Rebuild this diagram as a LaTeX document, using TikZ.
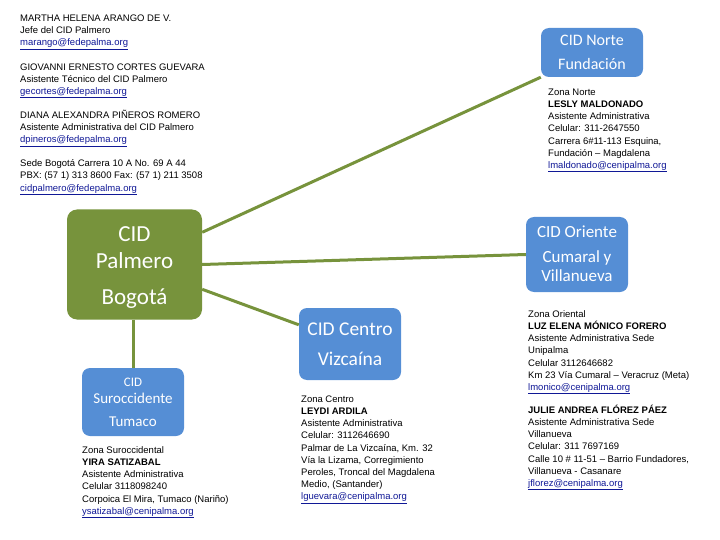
\documentclass[tikz,border=0pt]{standalone}
\usepackage{fontspec}
\setmainfont{Liberation Sans}
\newfontfamily\boxfont{Carlito}
\usetikzlibrary{calc}
\definecolor{cidgreen}{RGB}{119,147,60}
\definecolor{cidblue}{RGB}{85,142,213}
\definecolor{linkblue}{RGB}{16,24,150}
\newcommand{\mylink}[1]{\textcolor{linkblue}{\underline{#1}}}
\begin{document}
\begin{tikzpicture}[x=1pt,y=-1pt,
  greenbox/.style={fill=cidgreen, rounded corners=10pt, minimum width=135pt, minimum height=110pt, inner sep=0pt},
  bluebox/.style={fill=cidblue, rounded corners=8pt, inner sep=0pt},
  conn/.style={draw=cidgreen, line width=3pt},
  info/.style={anchor=north west, inner sep=0pt, align=left, font=\fontsize{9.5}{12.1}\selectfont},
  boxtext/.style={anchor=base, text=white, inner sep=0pt}]
\useasboundingbox (0,0) rectangle (720,540);

% boxes
\node[greenbox] (palmero) at (134.5,264.5) {};
\node[bluebox, minimum width=102pt, minimum height=49pt] (norte) at (592,52.5) {};
\node[bluebox, minimum width=102pt, minimum height=75pt] (oriente) at (577,254.5) {};
\node[bluebox, minimum width=102pt, minimum height=72pt] (centro) at (350,344) {};
\node[bluebox, minimum width=102pt, minimum height=68pt] (suroc) at (133,402) {};

% connectors
\draw[conn] ($(palmero.north east)+(0,23)$) -- (norte.south west);
\draw[conn] (palmero.east) -- (oriente.west);
\draw[conn] ($(palmero.north east)+(0,80)$) -- ($(centro.north west)+(0,17)$);
\draw[conn] (palmero.south -| suroc.north) -- (suroc.north);

% box texts
\node[boxtext, font=\boxfont\fontsize{23}{23}\selectfont] (p1) at (134.5,241) {CID};
\node[boxtext, font=\boxfont\fontsize{23}{23}\selectfont] (p2) at (134.5,268) {Palmero};
\node[boxtext, font=\boxfont\fontsize{23}{23}\selectfont] (p3) at (134.5,304) {Bogotá};

\node[boxtext, font=\boxfont\fontsize{16}{16}\selectfont] (n1) at (592,46) {CID Norte};
\node[boxtext, font=\boxfont\fontsize{16}{16}\selectfont] (n2) at (592,70) {Fundación};

\node[boxtext, font=\boxfont\fontsize{17}{17}\selectfont] (o1) at (577,237.5) {CID Oriente};
\node[boxtext, font=\boxfont\fontsize{17}{17}\selectfont] (o2) at (577,262.5) {Cumaral y};
\node[boxtext, font=\boxfont\fontsize{17}{17}\selectfont] (o3) at (577,281.5) {Villanueva};

\node[boxtext, font=\boxfont\fontsize{19.5}{19.5}\selectfont] (c1) at (350,335.5) {CID Centro};
\node[boxtext, font=\boxfont\fontsize{19.5}{19.5}\selectfont] (c2) at (350,365) {Vizcaína};

\node[boxtext, font=\boxfont\fontsize{13}{13}\selectfont] (s1) at (133,386) {CID};
\node[boxtext, font=\boxfont\fontsize{15}{15}\selectfont] (s2) at (133,403) {Suroccidente};
\node[boxtext, font=\boxfont\fontsize{15}{15}\selectfont] (s3) at (133,426) {Tumaco};

% info blocks
\node[info] (martha) at (20,13) {\strut MARTHA HELENA ARANGO DE V.\\ Jefe del CID Palmero\\ \mylink{marango@fedepalma.org}};
\node[info] (giovanni) at (20,61.4) {\strut GIOVANNI ERNESTO CORTES GUEVARA\\ Asistente Técnico del CID Palmero\\ \mylink{gecortes@fedepalma.org}};
\node[info] (diana) at (20,109.8) {\strut DIANA ALEXANDRA PIÑEROS ROMERO\\ Asistente Administrativa del CID Palmero\\ \mylink{dpineros@fedepalma.org}};
\node[info] (sede) at (20,158.2) {\strut Sede Bogotá Carrera 10 A No. 69 A 44\\ PBX: (57 1) 313 8600 Fax: (57 1) 211 3508\\ \mylink{cidpalmero@fedepalma.org}};

\node[info] (nortei) at (548,87) {\strut Zona Norte\\ \textbf{LESLY MALDONADO}\\ Asistente Administrativa\\ Celular: 311-2647550\\ Carrera 6\#11-113 Esquina,\\ Fundación – Magdalena\\ \mylink{lmaldonado@cenipalma.org}};

\node[info] (orientei) at (528,309) {\strut Zona Oriental\\ \textbf{LUZ ELENA MÓNICO FORERO}\\ Asistente Administrativa Sede\\ Unipalma\\ Celular 3112646682\\ Km 23 Vía Cumaral – Veracruz (Meta)\\ \mylink{lmonico@cenipalma.org}};

\node[info] (julie) at (528,405) {\strut\textbf{JULIE ANDREA FLÓREZ PÁEZ}\\ Asistente Administrativa Sede\\ Villanueva\\ Celular: 311 7697169\\ Calle 10 \# 11-51 – Barrio Fundadores,\\ Villanueva - Casanare\\ \mylink{jflorez@cenipalma.org}};

\node[info] (centroi) at (301,394) {\strut Zona Centro\\ \textbf{LEYDI ARDILA}\\ Asistente Administrativa\\ Celular: 3112646690\\ Palmar de La Vizcaína, Km. 32\\ Vía la Lizama, Corregimiento\\ Peroles, Troncal del Magdalena\\ Medio, (Santander)\\ \mylink{lguevara@cenipalma.org}};

\node[info] (suroci) at (82,445) {\strut Zona Suroccidental\\ \textbf{YIRA SATIZABAL}\\ Asistente Administrativa\\ Celular 3118098240\\ Corpoica El Mira, Tumaco (Nariño)\\ \mylink{ysatizabal@cenipalma.org}};
\end{tikzpicture}
\end{document}
